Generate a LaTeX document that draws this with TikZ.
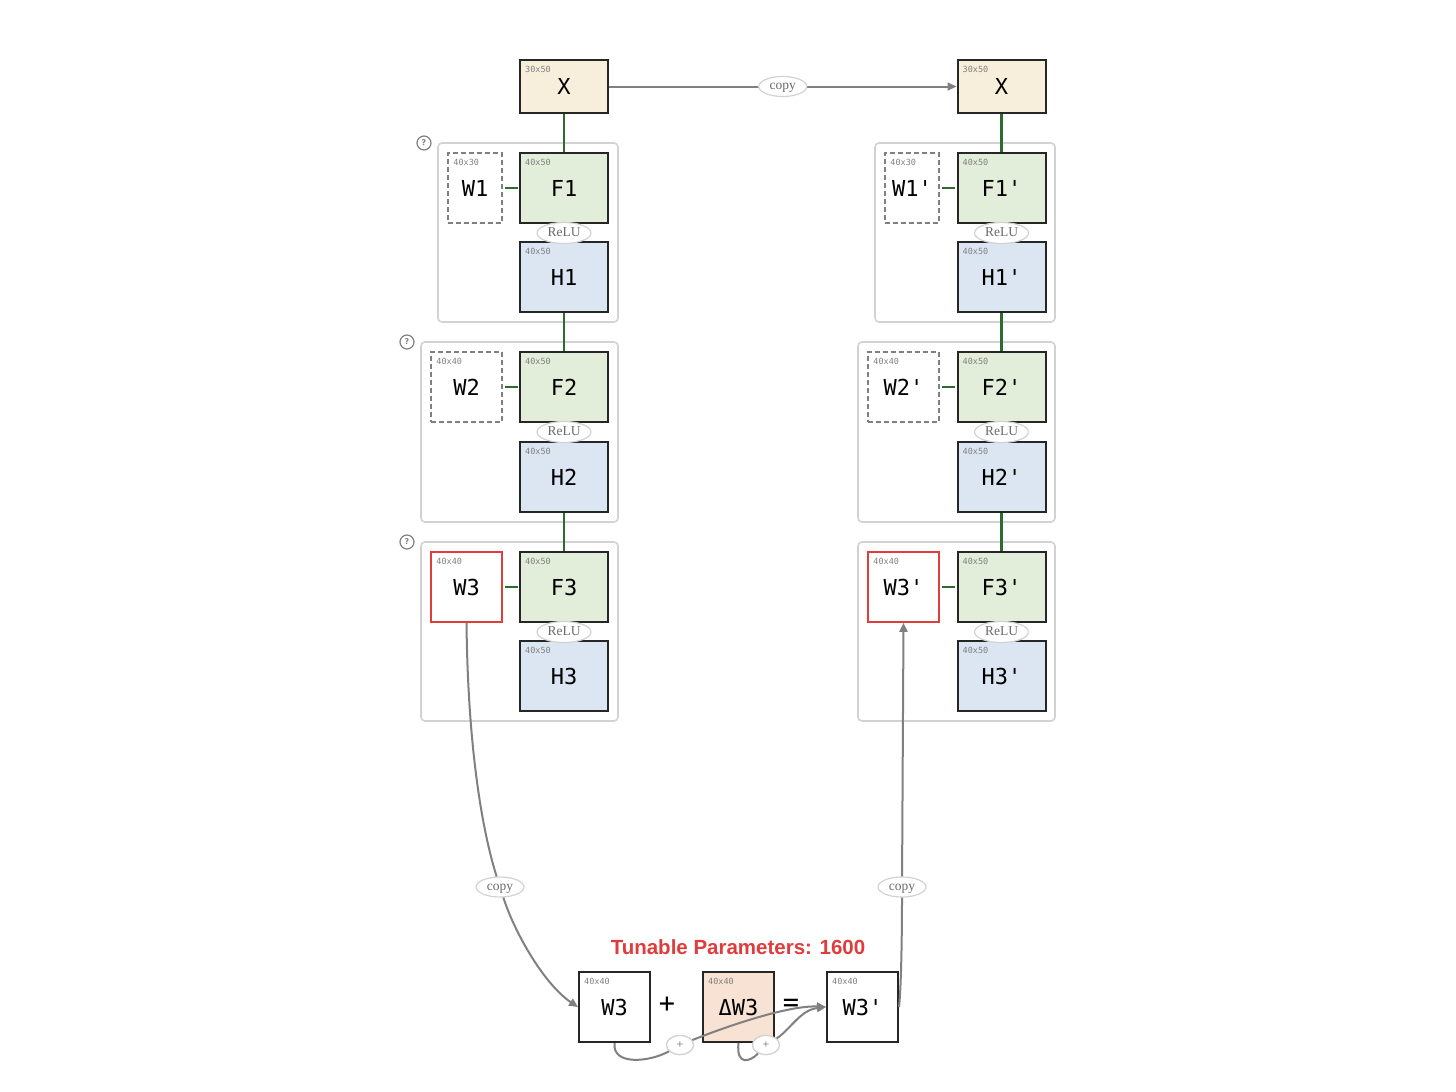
\documentclass[tikz,border=0pt]{standalone}
\usepackage{fontspec}
\setmainfont{Liberation Serif}
\setmonofont{DejaVu Sans Mono}
\newfontfamily\titlefont{Liberation Sans}
\newfontfamily\symfont{DejaVu Sans}
\usetikzlibrary{arrows.meta,calc,shapes.geometric}
\definecolor{xfill}{HTML}{F8EEDC}
\definecolor{ffill}{HTML}{E2EDDA}
\definecolor{hfill}{HTML}{DCE6F2}
\definecolor{dfill}{HTML}{F7E2D3}
\definecolor{lgreen}{HTML}{2E6B2E}
\definecolor{wred}{HTML}{E03C3C}
\definecolor{garr}{HTML}{808080}
\definecolor{cbord}{HTML}{D2D2D2}
\definecolor{ltext}{HTML}{6A6A6A}
\tikzset{
  box/.style={draw=black!85, line width=2pt, minimum width=88pt, minimum height=70pt,
    inner sep=0pt, font=\ttfamily\fontsize{22}{26}\selectfont},
  xbox/.style={box, minimum height=53pt, fill=xfill},
  fbox/.style={box, fill=ffill},
  hbox/.style={box, fill=hfill},
  wdash/.style={box, draw=gray, line width=1.5pt, dash pattern=on 5pt off 3pt, minimum width=#1},
  wredbox/.style={box, draw=wred, line width=1.6pt, minimum width=71pt},
  wplain/.style={box, minimum width=71pt},
  sz/.style={label={[font=\ttfamily\fontsize{8.5}{9}\selectfont, text=gray, anchor=north west, inner sep=0pt, xshift=6pt, yshift=-6.5pt]north west:#1}},
  cont/.style={draw=cbord, line width=1.6pt, rounded corners=4pt},
  lbl/.style={ellipse, draw=cbord, line width=1.2pt, fill=white, text=ltext, inner sep=0pt,
    minimum width=50pt, minimum height=20pt, text height=8.5pt, text depth=2.5pt, font=\fontsize{13.5}{15}\selectfont},
  relu/.style={lbl, minimum width=54pt, minimum height=21pt},
  pl/.style={lbl, minimum width=27pt, minimum height=19pt, text height=7pt, text depth=1pt, font=\fontsize{12}{13}\selectfont},
  qm/.style={circle, draw=gray, line width=1.2pt, minimum size=14pt, inner sep=0pt, text=gray,
    font=\symfont\bfseries\fontsize{8}{9}\selectfont},
  gline/.style={draw=lgreen, line width=2.4pt},
  garrow/.style={draw=garr, line width=2pt, -{Triangle[length=9pt,width=8pt]}},
  gplain/.style={draw=garr, line width=2pt},
}
\begin{document}
\begin{tikzpicture}[x=1pt,y=-1pt]
\useasboundingbox (0,0) rectangle (1456,1092);
% containers
\draw[cont] (438,143) rectangle (618,322);
\draw[cont] (421,342) rectangle (618,522);
\draw[cont] (421,542) rectangle (618,721);
\draw[cont] (875,143) rectangle (1055,322);
\draw[cont] (858,342) rectangle (1055,522);
\draw[cont] (858,542) rectangle (1055,721);
\node[qm] (q1) at (424,143) {?};
\node[qm] (q2) at (407,342) {?};
\node[qm] (q3) at (407,542) {?};
% left column
\node[xbox, sz=30x50] (XL) at (564,86.5) {X};
\node[wdash=54pt, sz=40x30] (W1) at (475,188) {W1};
\node[fbox, sz=40x50] (F1) at (564,188) {F1};
\node[hbox, sz=40x50] (H1) at (564,277) {H1};
\node[wdash=71pt, sz=40x40] (W2) at (466.5,387) {W2};
\node[fbox, sz=40x50] (F2) at (564,387) {F2};
\node[hbox, sz=40x50] (H2) at (564,477) {H2};
\node[wredbox, sz=40x40] (W3) at (466.5,587) {W3};
\node[fbox, sz=40x50] (F3) at (564,587) {F3};
\node[hbox, sz=40x50] (H3) at (564,676) {H3};
% right column
\node[xbox, sz=30x50] (XR) at (1001.5,86.5) {X};
\node[wdash=54pt, sz=40x30] (W1p) at (912,188) {W1'};
\node[fbox, sz=40x50] (F1p) at (1001.5,188) {F1'};
\node[hbox, sz=40x50] (H1p) at (1001.5,277) {H1'};
\node[wdash=71pt, sz=40x40] (W2p) at (903.5,387) {W2'};
\node[fbox, sz=40x50] (F2p) at (1001.5,387) {F2'};
\node[hbox, sz=40x50] (H2p) at (1001.5,477) {H2'};
\node[wredbox, sz=40x40] (W3p) at (903.5,587) {W3'};
\node[fbox, sz=40x50] (F3p) at (1001.5,587) {F3'};
\node[hbox, sz=40x50] (H3p) at (1001.5,676) {H3'};
% green links
\foreach \a/\b in {XL/F1,H1/F2,H2/F3,XR/F1p,H1p/F2p,H2p/F3p}{\draw[gline] (\a.south) -- (\b.north);}
\foreach \a/\b in {W1/F1,W2/F2,W3/F3,W1p/F1p,W2p/F2p,W3p/F3p}{\draw[gline, shorten <=2.5pt, shorten >=1.5pt] (\a.east) -- (\b.west);}
% relu labels
\foreach \f/\n in {F1/r1,F2/r2,F3/r3,F1p/r1p,F2p/r2p,F3p/r3p}{\node[relu] (\n) at ($(\f.south)+(0,9)$) {ReLU};}
% top copy
\draw[garrow] (XL.east) -- node[lbl, minimum width=48pt] (ctop) {copy} (XR.west);
% bottom equation
\node[font=\titlefont\bfseries\fontsize{20.5}{24}\selectfont, text=wred] (title) at (738,947) {Tunable Parameters: 1600};
\node[wplain, sz=40x40] (W3b) at (614.5,1007) {W3};
\node[font=\ttfamily\fontsize{27}{30}\selectfont] (plus) at (667,1005) {+};
\node[font=\ttfamily\fontsize{27}{30}\selectfont] (eq) at (791,1005) {=};
\node[wplain, fill=dfill, sz=40x40] (DW) at (738.5,1007) {ΔW3};
\node[wplain, sz=40x40] (W3pb) at (862.5,1007) {W3'};
% copy curves
\node[lbl, minimum width=48pt] (cL) at (500,887) {copy};
\node[lbl, minimum width=48pt] (cR) at (902,887) {copy};
\draw[gplain] (W3.south) .. controls (468,760) and (485,840) .. (cL);
\draw[garrow] (cL) .. controls (515,934) and (545,985) .. (W3b.west);
\draw[gplain] (W3pb.east) .. controls (901,990) and (902,940) .. (cR);
\draw[garrow] (cR) -- (W3p.south);
% plus loops
\node[pl] (p1) at (680,1045) {+};
\node[pl] (p2) at (766,1045) {+};
\draw[gplain] (W3b.south) .. controls (612,1066) and (650,1062) .. (p1);
\draw[garrow] (p1) .. controls (730,1025) and (790,1005) .. (W3pb.west);
\draw[gplain] (DW.south) .. controls (736,1066) and (750,1062) .. (p2);
\draw[garrow] (p2) .. controls (790,1030) and (800,1010) .. (W3pb.west);
\node[pl] at (p1) {+};
\node[pl] at (p2) {+};
\end{tikzpicture}
\end{document}
